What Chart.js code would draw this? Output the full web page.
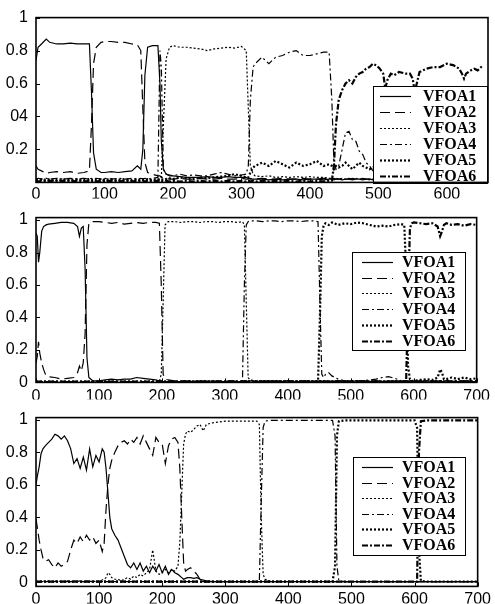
<!DOCTYPE html>
<html>
<head>
<meta charset="utf-8">
<script src="https://cdn.jsdelivr.net/npm/chart.js@4.4.0/dist/chart.umd.min.js"></script>
<style>
  html, body { margin: 0; padding: 0; background: #fff; }
  body { width: 495px; height: 604px; position: relative; overflow: hidden; }
  canvas { position: absolute; left: 0; }
</style>
</head>
<body>
<canvas id="panel-a" width="495" height="200" style="top:0px"></canvas>
<canvas id="panel-b" width="495" height="200" style="top:200px"></canvas>
<canvas id="panel-c" width="495" height="204" style="top:400px"></canvas>
<script>
const seriesNames = ['VFOA1', 'VFOA2', 'VFOA3', 'VFOA4', 'VFOA5', 'VFOA6'];

const yTickValues = [0, 0.2, 0.4, 0.6, 0.8, 1];
const aYLabels = ['', '0.2', '04', '0.6', '0.8', '1'];
const bcYLabels = ['0', '0.2', '0.4', '0.6', '0.8', '1'];
const aXTicks = [0, 100, 200, 300, 400, 500, 600];
const bcXTicks = [0, 100, 200, 300, 400, 500, 600, 700];

// top panel
const aFrames = [0,3,8,15,20,30,40,50,60,70,
  78,81,84,88,95,100,110,120,130,140,
  148,153,156,159,163,170,178,181,183,186,
  190,195,200,210,220,230,240,250,260,270,
  280,290,300,307,310,313,317,320,330,340,
  350,360,370,380,390,400,410,420,428,432,
  435,438,442,447,452,457,462,467,472,477,
  482,487,492,497,502,507,510,513,518,523,
  530,540,546,550,553,556,560,570,580,590,
  600,610,618,622,625,628,635,640,645,650,
  652];
const aVfoa1 = [0.74,0.82,0.84,0.87,0.85,0.84,0.84,0.845,0.84,0.84,
  0.84,0.55,0.18,0.08,0.06,0.06,0.065,0.06,0.065,0.07,
  0.1,0.08,0.2,0.65,0.82,0.83,0.83,0.6,0.25,0.08,
  0.05,0.04,0.04,0.035,0.03,0.03,0.03,0.035,0.03,0.03,
  0.035,0.03,0.03,0.03,0.025,0.02,0.02,0.02,0.02,0.015,
  0.02,0.015,0.02,0.02,0.015,0.02,0.02,0.015,0.02,0.02,
  0.015,0.02,0.02,0.015,0.02,0.02,0.015,0.02,0.02,0.015,
  0.02,0.02,0.015,0.02,0.02,0.015,0.02,0.02,0.015,0.02,
  0.02,0.015,0.02,0.02,0.015,0.02,0.02,0.015,0.02,0.02,
  0.015,0.02,0.02,0.015,0.02,0.02,0.015,0.02,0.02,0.015,
  0.02];
const aVfoa2 = [0.1,0.08,0.07,0.055,0.06,0.065,0.06,0.065,0.055,0.06,
  0.07,0.35,0.72,0.82,0.85,0.855,0.855,0.85,0.85,0.84,
  0.835,0.8,0.45,0.12,0.06,0.05,0.04,0.04,0.03,0.03,
  0.025,0.02,0.02,0.025,0.02,0.02,0.025,0.02,0.02,0.025,
  0.02,0.02,0.025,0.02,0.02,0.025,0.02,0.02,0.025,0.02,
  0.02,0.025,0.02,0.02,0.025,0.02,0.02,0.025,0.02,0.02,
  0.025,0.02,0.02,0.025,0.02,0.02,0.025,0.02,0.02,0.025,
  0.02,0.02,0.025,0.02,0.02,0.025,0.02,0.02,0.025,0.02,
  0.02,0.025,0.02,0.02,0.025,0.02,0.02,0.025,0.02,0.02,
  0.025,0.02,0.02,0.025,0.02,0.02,0.025,0.02,0.02,0.025,
  0.02];
const aVfoa3 = [0.015,0.01,0.015,0.01,0.015,0.01,0.015,0.01,0.015,0.01,
  0.015,0.01,0.015,0.01,0.015,0.01,0.015,0.01,0.015,0.01,
  0.015,0.01,0.015,0.01,0.015,0.01,0.015,0.02,0.03,0.35,
  0.75,0.82,0.83,0.82,0.82,0.815,0.81,0.8,0.81,0.815,
  0.82,0.815,0.825,0.8,0.45,0.1,0.05,0.04,0.035,0.04,
  0.03,0.035,0.03,0.035,0.03,0.035,0.03,0.03,0.025,0.025,
  0.02,0.025,0.02,0.025,0.02,0.025,0.02,0.025,0.02,0.02,
  0.02,0.015,0.02,0.015,0.02,0.015,0.02,0.015,0.02,0.015,
  0.02,0.015,0.02,0.015,0.02,0.015,0.02,0.015,0.02,0.015,
  0.02,0.015,0.02,0.015,0.02,0.015,0.02,0.015,0.02,0.015,
  0.02];
const aVfoa4 = [0.02,0.025,0.02,0.025,0.02,0.025,0.02,0.025,0.02,0.025,
  0.02,0.025,0.02,0.025,0.02,0.025,0.02,0.025,0.02,0.025,
  0.02,0.025,0.02,0.025,0.02,0.025,0.03,0.8,0.7,0.08,
  0.05,0.045,0.04,0.05,0.04,0.045,0.04,0.04,0.05,0.06,
  0.05,0.04,0.045,0.05,0.1,0.5,0.7,0.72,0.76,0.72,
  0.76,0.77,0.79,0.8,0.77,0.77,0.78,0.79,0.79,0.5,
  0.12,0.08,0.1,0.2,0.3,0.31,0.26,0.25,0.19,0.17,
  0.12,0.1,0.07,0.06,0.05,0.04,0.04,0.035,0.03,0.035,
  0.03,0.035,0.03,0.035,0.03,0.035,0.03,0.035,0.03,0.035,
  0.03,0.035,0.03,0.035,0.03,0.035,0.03,0.035,0.03,0.035,
  0.03];
const aVfoa5 = [0.02,0.015,0.02,0.015,0.02,0.015,0.02,0.015,0.02,0.015,
  0.02,0.015,0.02,0.015,0.02,0.015,0.02,0.015,0.02,0.015,
  0.02,0.015,0.02,0.015,0.02,0.015,0.02,0.015,0.02,0.015,
  0.02,0.025,0.02,0.03,0.025,0.02,0.03,0.025,0.03,0.035,
  0.04,0.05,0.04,0.03,0.03,0.06,0.09,0.1,0.12,0.1,
  0.13,0.11,0.09,0.12,0.1,0.11,0.13,0.1,0.11,0.1,
  0.08,0.1,0.09,0.1,0.12,0.1,0.08,0.1,0.12,0.1,
  0.09,0.08,0.09,0.08,0.07,0.08,0.07,0.06,0.07,0.06,
  0.05,0.06,0.05,0.05,0.06,0.05,0.04,0.05,0.04,0.05,
  0.04,0.05,0.04,0.04,0.05,0.04,0.04,0.05,0.04,0.04,
  0.04];
const aVfoa6 = [0.01,0.005,0.01,0.005,0.01,0.005,0.01,0.005,0.01,0.005,
  0.01,0.005,0.01,0.005,0.01,0.005,0.01,0.005,0.01,0.005,
  0.01,0.005,0.01,0.005,0.01,0.005,0.01,0.005,0.01,0.005,
  0.01,0.005,0.01,0.005,0.01,0.005,0.01,0.005,0.01,0.005,
  0.01,0.005,0.01,0.005,0.01,0.005,0.01,0.005,0.01,0.005,
  0.01,0.005,0.01,0.005,0.01,0.005,0.01,0.005,0.01,0.01,
  0.1,0.35,0.5,0.56,0.6,0.62,0.6,0.64,0.66,0.67,
  0.69,0.7,0.72,0.71,0.69,0.66,0.57,0.62,0.66,0.65,
  0.67,0.66,0.66,0.63,0.55,0.6,0.67,0.69,0.7,0.7,
  0.72,0.71,0.69,0.66,0.63,0.66,0.68,0.69,0.68,0.7,
  0.71];

// middle panel
const bFrames = [0,2,4,6,9,12,16,20,30,40,
  50,60,66,69,72,75,78,81,84,90,
  100,110,120,130,140,150,160,170,180,190,
  196,199,202,205,210,220,230,240,250,260,
  270,280,290,300,310,320,328,331,334,337,
  340,350,360,370,380,390,400,410,420,430,
  440,448,451,454,457,460,465,470,480,490,
  500,510,520,530,540,550,560,570,580,585,
  588,591,594,597,600,610,620,630,638,642,
  645,648,652,660,670,680,690,700];
const bVfoa1 = [0.92,0.9,0.74,0.8,0.93,0.96,0.97,0.975,0.98,0.985,
  0.985,0.98,0.96,0.9,0.95,0.96,0.7,0.15,0.03,0.01,
  0.01,0.015,0.02,0.015,0.02,0.02,0.03,0.025,0.02,0.015,
  0.01,0.01,0.005,0.005,0.005,0.005,0.005,0.005,0.005,0.005,
  0.005,0.01,0.005,0.005,0.01,0.005,0.005,0.01,0.005,0.005,
  0.01,0.005,0.005,0.01,0.005,0.005,0.01,0.005,0.005,0.01,
  0.005,0.005,0.01,0.005,0.005,0.01,0.005,0.005,0.01,0.005,
  0.005,0.01,0.005,0.005,0.01,0.005,0.005,0.01,0.005,0.005,
  0.01,0.005,0.005,0.01,0.005,0.005,0.01,0.005,0.005,0.01,
  0.005,0.005,0.01,0.005,0.005,0.01,0.005,0.005];
const bVfoa2 = [0.12,0.16,0.25,0.18,0.12,0.08,0.04,0.035,0.03,0.02,
  0.025,0.03,0.06,0.1,0.07,0.12,0.3,0.85,0.98,0.99,
  0.99,0.985,0.98,0.985,0.975,0.98,0.985,0.98,0.985,0.985,
  0.98,0.6,0.05,0.02,0.015,0.01,0.01,0.01,0.01,0.01,
  0.01,0.005,0.01,0.005,0.01,0.005,0.01,0.005,0.01,0.005,
  0.01,0.005,0.01,0.005,0.01,0.005,0.01,0.005,0.01,0.005,
  0.01,0.005,0.01,0.005,0.01,0.005,0.01,0.005,0.01,0.005,
  0.01,0.005,0.01,0.005,0.01,0.005,0.01,0.005,0.01,0.005,
  0.01,0.005,0.01,0.005,0.01,0.005,0.01,0.005,0.01,0.005,
  0.01,0.005,0.01,0.005,0.01,0.005,0.01,0.005];
const bVfoa3 = [0.005,0.005,0.005,0.005,0.005,0.005,0.005,0.005,0.005,0.005,
  0.005,0.005,0.005,0.005,0.005,0.005,0.005,0.005,0.005,0.005,
  0.005,0.005,0.005,0.005,0.005,0.005,0.005,0.005,0.005,0.005,
  0.005,0.05,0.5,0.97,0.99,0.99,0.985,0.99,0.99,0.985,
  0.99,0.99,0.985,0.99,0.99,0.985,0.99,0.97,0.5,0.03,
  0.015,0.01,0.01,0.01,0.01,0.01,0.01,0.01,0.01,0.01,
  0.01,0.01,0.01,0.01,0.01,0.01,0.01,0.01,0.01,0.01,
  0.01,0.01,0.01,0.01,0.01,0.01,0.01,0.01,0.01,0.01,
  0.01,0.01,0.01,0.01,0.01,0.01,0.01,0.01,0.01,0.01,
  0.01,0.01,0.01,0.01,0.01,0.01,0.01,0.01];
const bVfoa4 = [0.005,0.005,0.005,0.005,0.005,0.005,0.005,0.005,0.005,0.005,
  0.005,0.005,0.005,0.005,0.005,0.005,0.005,0.005,0.005,0.005,
  0.005,0.005,0.005,0.005,0.005,0.005,0.005,0.005,0.005,0.005,
  0.005,0.005,0.005,0.005,0.005,0.005,0.005,0.005,0.005,0.005,
  0.005,0.005,0.005,0.005,0.005,0.005,0.01,0.6,0.97,0.99,
  0.995,0.995,0.99,0.995,0.995,0.99,0.995,0.995,0.99,0.995,
  0.995,0.99,0.5,0.05,0.03,0.05,0.06,0.04,0.02,0.01,
  0.01,0.01,0.01,0.015,0.02,0.03,0.035,0.025,0.01,0.01,
  0.01,0.01,0.01,0.01,0.01,0.01,0.01,0.01,0.01,0.01,
  0.01,0.01,0.01,0.01,0.01,0.01,0.01,0.01];
const bVfoa5 = [0.005,0.005,0.005,0.005,0.005,0.005,0.005,0.005,0.005,0.005,
  0.005,0.005,0.005,0.005,0.005,0.005,0.005,0.005,0.005,0.005,
  0.005,0.005,0.005,0.005,0.005,0.005,0.005,0.005,0.005,0.005,
  0.005,0.005,0.005,0.005,0.005,0.005,0.005,0.005,0.005,0.005,
  0.005,0.005,0.005,0.005,0.005,0.005,0.005,0.005,0.005,0.005,
  0.005,0.005,0.005,0.005,0.005,0.005,0.005,0.005,0.005,0.005,
  0.005,0.005,0.4,0.9,0.97,0.98,0.97,0.985,0.97,0.98,
  0.975,0.985,0.98,0.97,0.96,0.965,0.96,0.97,0.975,0.97,
  0.7,0.1,0.02,0.01,0.01,0.015,0.02,0.015,0.03,0.08,
  0.06,0.02,0.02,0.03,0.02,0.03,0.02,0.025];
const bVfoa6 = [0.005,0.005,0.005,0.005,0.005,0.005,0.005,0.005,0.005,0.005,
  0.005,0.005,0.005,0.005,0.005,0.005,0.005,0.005,0.005,0.005,
  0.005,0.005,0.005,0.005,0.005,0.005,0.005,0.005,0.005,0.005,
  0.005,0.005,0.005,0.005,0.005,0.005,0.005,0.005,0.005,0.005,
  0.005,0.005,0.005,0.005,0.005,0.005,0.005,0.005,0.005,0.005,
  0.005,0.005,0.005,0.005,0.005,0.005,0.005,0.005,0.005,0.005,
  0.005,0.005,0.005,0.005,0.005,0.005,0.005,0.005,0.005,0.005,
  0.005,0.005,0.005,0.005,0.005,0.005,0.005,0.005,0.005,0.005,
  0.01,0.5,0.95,0.98,0.985,0.98,0.975,0.98,0.96,0.9,
  0.93,0.97,0.98,0.97,0.975,0.965,0.975,0.97];

// bottom panel
const cFrames = [0,2,5,8,11,15,20,25,30,35,
  40,45,50,55,60,65,70,75,80,85,
  90,95,100,105,108,111,114,117,120,125,
  130,135,140,145,150,155,160,165,170,175,
  180,185,190,195,200,205,210,215,220,225,
  228,231,234,237,240,245,250,255,260,265,
  270,280,290,300,310,320,330,340,350,354,
  357,360,363,370,380,390,400,410,420,430,
  440,450,460,470,474,477,480,490,500,510,
  520,530,540,550,560,570,580,590,600,604,
  607,610,620,630,640,650,660,670,680,690,
  700];
const cVfoa1 = [0.6,0.65,0.71,0.79,0.82,0.84,0.86,0.88,0.91,0.9,
  0.88,0.9,0.87,0.82,0.73,0.76,0.7,0.77,0.69,0.82,
  0.71,0.78,0.74,0.82,0.8,0.7,0.55,0.4,0.33,0.29,
  0.26,0.21,0.16,0.11,0.09,0.12,0.08,0.12,0.07,0.1,
  0.06,0.1,0.07,0.11,0.06,0.1,0.05,0.08,0.06,0.05,
  0.04,0.03,0.02,0.025,0.03,0.03,0.025,0.03,0.02,0.015,
  0.01,0.005,0.005,0.005,0.005,0.005,0.005,0.005,0.005,0.005,
  0.005,0.005,0.005,0.005,0.005,0.005,0.005,0.005,0.005,0.005,
  0.005,0.005,0.005,0.005,0.005,0.005,0.005,0.005,0.005,0.005,
  0.005,0.005,0.005,0.005,0.005,0.005,0.005,0.005,0.005,0.005,
  0.005,0.005,0.005,0.005,0.005,0.005,0.005,0.005,0.005,0.005,
  0.005];
const cVfoa2 = [0.39,0.34,0.26,0.2,0.15,0.13,0.14,0.11,0.09,0.12,
  0.1,0.11,0.13,0.2,0.26,0.24,0.28,0.25,0.29,0.26,
  0.28,0.24,0.26,0.19,0.24,0.45,0.6,0.7,0.75,0.8,
  0.84,0.86,0.87,0.85,0.88,0.86,0.89,0.85,0.9,0.86,
  0.82,0.78,0.89,0.86,0.85,0.73,0.84,0.88,0.89,0.86,
  0.7,0.4,0.12,0.07,0.08,0.09,0.07,0.05,0.02,0.01,
  0.005,0.005,0.005,0.005,0.005,0.005,0.005,0.005,0.005,0.005,
  0.005,0.005,0.005,0.005,0.005,0.005,0.005,0.005,0.005,0.005,
  0.005,0.005,0.005,0.005,0.005,0.005,0.005,0.005,0.005,0.005,
  0.005,0.005,0.005,0.005,0.005,0.005,0.005,0.005,0.005,0.005,
  0.005,0.005,0.005,0.005,0.005,0.005,0.005,0.005,0.005,0.005,
  0.005];
const cVfoa3 = [0.01,0.005,0.01,0.005,0.01,0.005,0.01,0.005,0.01,0.005,
  0.01,0.005,0.01,0.005,0.01,0.005,0.01,0.005,0.01,0.005,
  0.01,0.005,0.01,0.015,0.02,0.03,0.06,0.05,0.03,0.02,
  0.02,0.01,0.02,0.03,0.02,0.04,0.03,0.05,0.04,0.06,
  0.08,0.2,0.07,0.05,0.06,0.08,0.06,0.08,0.07,0.1,
  0.25,0.55,0.85,0.91,0.93,0.92,0.94,0.96,0.97,0.93,
  0.97,0.98,0.985,0.99,0.99,0.99,0.99,0.99,0.99,0.97,
  0.4,0.05,0.02,0.01,0.005,0.005,0.005,0.005,0.005,0.005,
  0.005,0.005,0.005,0.005,0.005,0.005,0.005,0.005,0.005,0.005,
  0.005,0.005,0.005,0.005,0.005,0.005,0.005,0.005,0.005,0.005,
  0.005,0.005,0.005,0.005,0.005,0.005,0.005,0.005,0.005,0.005,
  0.005];
const cVfoa4 = [0.005,0.005,0.005,0.005,0.005,0.005,0.005,0.005,0.005,0.005,
  0.005,0.005,0.005,0.005,0.005,0.005,0.005,0.005,0.005,0.005,
  0.005,0.005,0.005,0.005,0.005,0.005,0.005,0.005,0.005,0.005,
  0.005,0.005,0.005,0.005,0.005,0.005,0.005,0.005,0.005,0.005,
  0.005,0.005,0.005,0.005,0.005,0.005,0.005,0.005,0.005,0.005,
  0.005,0.005,0.005,0.005,0.005,0.005,0.005,0.005,0.005,0.005,
  0.005,0.005,0.005,0.005,0.005,0.005,0.005,0.005,0.005,0.005,
  0.5,0.95,0.99,0.995,0.995,0.995,0.995,0.995,0.995,0.995,
  0.995,0.995,0.995,0.995,0.9,0.1,0.01,0.005,0.005,0.005,
  0.005,0.005,0.005,0.005,0.005,0.005,0.005,0.005,0.005,0.005,
  0.005,0.005,0.005,0.005,0.005,0.005,0.005,0.005,0.005,0.005,
  0.005];
const cVfoa5 = [0.005,0.005,0.005,0.005,0.005,0.005,0.005,0.005,0.005,0.005,
  0.005,0.005,0.005,0.005,0.005,0.005,0.005,0.005,0.005,0.005,
  0.005,0.005,0.005,0.005,0.005,0.005,0.005,0.005,0.005,0.005,
  0.005,0.005,0.005,0.005,0.005,0.005,0.005,0.005,0.005,0.005,
  0.005,0.005,0.005,0.005,0.005,0.005,0.005,0.005,0.005,0.005,
  0.005,0.005,0.005,0.005,0.005,0.005,0.005,0.005,0.005,0.005,
  0.005,0.005,0.005,0.005,0.005,0.005,0.005,0.005,0.005,0.005,
  0.005,0.005,0.005,0.005,0.005,0.005,0.005,0.005,0.005,0.005,
  0.005,0.005,0.005,0.005,0.1,0.9,0.99,0.995,0.995,0.995,
  0.995,0.995,0.995,0.995,0.995,0.995,0.995,0.995,0.995,0.95,
  0.2,0.01,0.005,0.005,0.005,0.005,0.005,0.005,0.005,0.005,
  0.005];
const cVfoa6 = [0.005,0.005,0.005,0.005,0.005,0.005,0.005,0.005,0.005,0.005,
  0.005,0.005,0.005,0.005,0.005,0.005,0.005,0.005,0.005,0.005,
  0.005,0.005,0.005,0.005,0.005,0.005,0.005,0.005,0.005,0.005,
  0.005,0.005,0.005,0.005,0.005,0.005,0.005,0.005,0.005,0.005,
  0.005,0.005,0.005,0.005,0.005,0.005,0.005,0.005,0.005,0.005,
  0.005,0.005,0.005,0.005,0.005,0.005,0.005,0.005,0.005,0.005,
  0.005,0.005,0.005,0.005,0.005,0.005,0.005,0.005,0.005,0.005,
  0.005,0.005,0.005,0.005,0.005,0.005,0.005,0.005,0.005,0.005,
  0.005,0.005,0.005,0.005,0.005,0.005,0.005,0.005,0.005,0.005,
  0.005,0.005,0.005,0.005,0.005,0.005,0.005,0.005,0.005,0.005,
  0.8,0.99,0.995,0.995,0.995,0.995,0.995,0.995,0.995,0.995,
  0.995];

// line look for each VFOA, same order as seriesNames
const lineStyles = [
  { width: 1.2, dash: [] },
  { width: 1.2, dash: [10, 5] },
  { width: 1.2, dash: [2, 2] },
  { width: 1.2, dash: [7, 3, 2, 3] },
  { width: 2.2, dash: [2, 2] },
  { width: 2.2, dash: [6, 2, 2, 2] },
];

Chart.defaults.font.family = '"Liberation Sans", Arial, sans-serif';
Chart.defaults.color = '#000';

// frame, inward tick marks and the boxed legend
const framePlugin = {
  id: 'frame',
  afterDatasetsDraw(chart, args, opts) {
    const { ctx, chartArea: a, scales } = chart;
    ctx.save();
    ctx.strokeStyle = '#000';

    ctx.lineWidth = 1;
    ctx.beginPath();
    scales.x.ticks.forEach(t => {
      const px = Math.round(scales.x.getPixelForValue(t.value)) + 0.5;
      ctx.moveTo(px, a.bottom);
      ctx.lineTo(px, a.bottom - 4);
    });
    scales.y.ticks.forEach(t => {
      const py = Math.round(scales.y.getPixelForValue(t.value)) + 0.5;
      ctx.moveTo(a.left, py);
      ctx.lineTo(a.left + 4, py);
    });
    ctx.stroke();

    const box = opts.box;
    ctx.fillStyle = '#fff';
    ctx.fillRect(box.x, box.y, box.w, box.h);
    ctx.strokeRect(box.x + 0.5, box.y + 0.5, box.w - 1, box.h - 1);

    ctx.font = 'bold 16px "Liberation Serif", "Times New Roman", serif';
    ctx.textBaseline = 'middle';
    ctx.textAlign = 'left';
    chart.data.datasets.forEach((ds, i) => {
      const y = Math.round(box.y + box.first + i * box.step) + 0.5;
      ctx.lineWidth = ds.borderWidth;
      ctx.setLineDash(ds.borderDash);
      ctx.beginPath();
      ctx.moveTo(box.x + box.lineX, y);
      ctx.lineTo(box.x + box.lineX + 31, y);
      ctx.stroke();
      ctx.setLineDash([]);
      ctx.fillStyle = '#000';
      ctx.fillText(ds.label, box.x + box.textX, y);
    });

    ctx.lineWidth = 1.6;
    ctx.strokeRect(a.left, a.top, a.right - a.left, a.bottom - a.top);
    ctx.restore();
  }
};

const makePanel = (id, frames, seriesList, cfg) => {
  const datasets = seriesList.map((values, i) => ({
    label: seriesNames[i],
    data: frames.map((f, j) => ({ x: f, y: values[j] })),
    borderColor: '#000',
    borderWidth: lineStyles[i].width,
    borderDash: lineStyles[i].dash,
    pointRadius: 0,
    tension: 0,
    fill: false,
  }));

  new Chart(document.getElementById(id), {
    type: 'line',
    data: { datasets },
    plugins: [framePlugin],
    options: {
      responsive: false,
      animation: false,
      devicePixelRatio: 1,
      events: [],
      layout: { padding: { top: cfg.padTop, right: 7, left: 0, bottom: 0 } },
      plugins: {
        legend: { display: false },
        tooltip: { enabled: false },
        frame: { box: cfg.box },
      },
      scales: {
        x: {
          type: 'linear',
          min: 0,
          max: cfg.xMax,
          grid: { display: false, drawTicks: false },
          border: { display: false },
          afterBuildTicks: scale => { scale.ticks = cfg.xTicks.map(v => ({ value: v })); },
          afterFit: scale => { scale.height = cfg.xHeight; },
          ticks: { font: { size: 16 }, padding: cfg.xPad, maxRotation: 0, autoSkip: false,
            callback: value => String(value) },
        },
        y: {
          min: cfg.yMin,
          max: cfg.yMax,
          grid: { display: false, drawTicks: false },
          border: { display: false },
          afterBuildTicks: scale => { scale.ticks = yTickValues.map(v => ({ value: v })); },
          afterFit: scale => { scale.width = 36; },
          ticks: { font: { size: 16 }, padding: 8, autoSkip: false,
            callback: (value, index) => cfg.yLabels[index] },
        },
      },
    },
  });
};

makePanel('panel-a', aFrames, [aVfoa1, aVfoa2, aVfoa3, aVfoa4, aVfoa5, aVfoa6], {
  xMax: 660, xTicks: aXTicks, yMin: 0, yMax: 1, yLabels: aYLabels,
  padTop: 13, xHeight: 16, xPad: 3,
  box: { x: 373, y: 86, w: 115, h: 98, first: 9.5, step: 16, lineX: 7, textX: 50 },
});

makePanel('panel-b', bFrames, [bVfoa1, bVfoa2, bVfoa3, bVfoa4, bVfoa5, bVfoa6], {
  xMax: 700, xTicks: bcXTicks, yMin: 0, yMax: 1.015, yLabels: bcYLabels,
  padTop: 12, xHeight: 17, xPad: 5,
  box: { x: 352, y: 52, w: 114, h: 99, first: 10, step: 15.7, lineX: 10, textX: 50 },
});

makePanel('panel-c', cFrames, [cVfoa1, cVfoa2, cVfoa3, cVfoa4, cVfoa5, cVfoa6], {
  xMax: 700, xTicks: bcXTicks, yMin: -0.024, yMax: 1.012, yLabels: bcYLabels,
  padTop: 13, xHeight: 17, xPad: 4,
  box: { x: 353, y: 57, w: 113, h: 99, first: 10, step: 15.6, lineX: 9, textX: 49 },
});
</script>
</body>
</html>
